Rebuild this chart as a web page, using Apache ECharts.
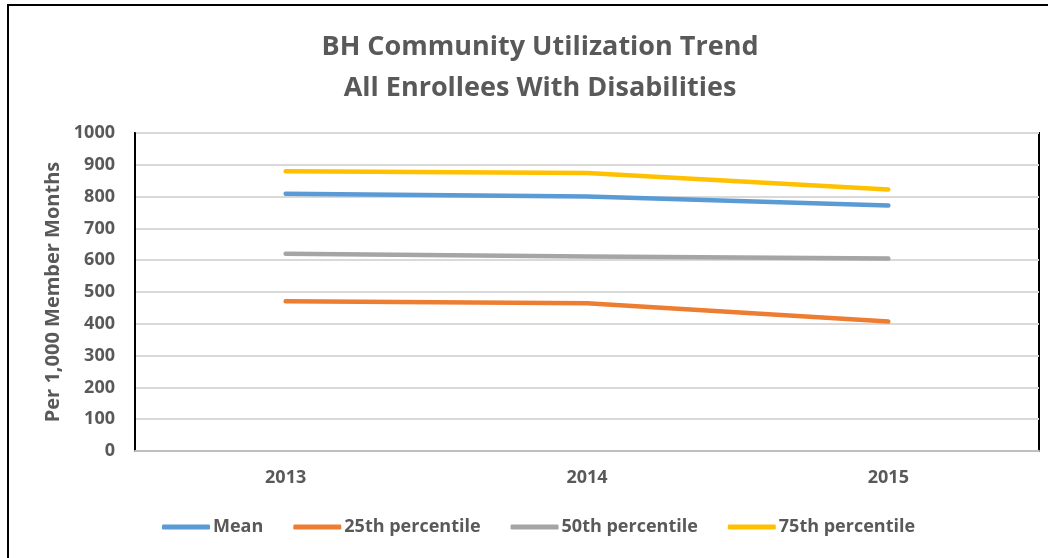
<!DOCTYPE html>
<html>
<head>
<meta charset="utf-8">
<script src="https://cdn.jsdelivr.net/npm/echarts@6/dist/echarts.min.js"></script>
<style>
html,body{margin:0;padding:0;background:#fff;}
#chart{width:1048px;height:558px;}
</style>
</head>
<body>
<div id="chart"></div>
<script>
var categories = ['2013', '2014', '2015'];
var meanValues = [809, 800, 772];
var p25Values = [471, 465, 407];
var p50Values = [620, 612, 605];
var p75Values = [880, 874, 822];
var seriesNames = ['Mean', '25th percentile', '50th percentile', '75th percentile'];
var seriesColors = ['#5B9BD5', '#ED7D31', '#A5A5A5', '#FFC000'];

var FONT = '"Open Sans"';
var chart = echarts.init(document.getElementById('chart'));
function mk(i, data) {
  return {
    name: seriesNames[i], type: 'line', data: data,
    symbol: 'none', showSymbol: false,
    lineStyle: { color: seriesColors[i], width: 4.5, cap: 'round', join: 'round' },
    itemStyle: { color: seriesColors[i] },
    emphasis: { disabled: true }
  };
}
chart.setOption({
  animation: false,
  backgroundColor: '#fff',
  title: {
    text: 'BH Community Utilization Trend\nAll Enrollees With Disabilities',
    left: 535, top: 22, textAlign: 'center',
    textStyle: { fontFamily: FONT, fontWeight: 'bold', fontSize: 27, color: '#595959', lineHeight: 41 }
  },
  legend: {
    data: seriesNames,
    left: 157, top: 513,
    icon: 'roundRect', itemWidth: 48, itemHeight: 5, itemGap: 30,
    textStyle: { fontFamily: FONT, fontWeight: 'bold', fontSize: 18, color: '#595959', padding: [0, 0, 0, -2] }
  },
  grid: { left: 135, right: 9, top: 133, bottom: 107, show: true, borderColor: '#000', borderWidth: 2 },
  xAxis: {
    type: 'category', data: categories, boundaryGap: true,
    axisLine: { lineStyle: { color: '#BFBFBF', width: 2 } },
    axisTick: { show: false },
    axisLabel: { fontFamily: FONT, fontWeight: 'bold', fontSize: 18, color: '#595959', margin: 18 }
  },
  yAxis: {
    type: 'value', min: 0, max: 1000, interval: 100,
    name: 'Per 1,000 Member Months', nameLocation: 'middle', nameGap: 71,
    nameTextStyle: { fontFamily: FONT, fontWeight: 'bold', fontSize: 20, color: '#595959' },
    axisLine: { show: true, lineStyle: { color: '#000', width: 2 } },
    axisTick: { show: false },
    splitLine: { lineStyle: { color: '#D9D9D9', width: 2 } },
    axisLabel: { fontFamily: FONT, fontWeight: 'bold', fontSize: 18, color: '#595959', margin: 20,
      formatter: function (v) { return String(v); } }
  },
  graphic: [
    { type: 'line', shape: { x1: 8, y1: 5, x2: 8, y2: 558 }, style: { stroke: '#000', lineWidth: 2 } },
    { type: 'line', shape: { x1: 7, y1: 5, x2: 1048, y2: 5 }, style: { stroke: '#000', lineWidth: 2 } }
  ],
  series: [mk(0, meanValues), mk(1, p25Values), mk(2, p50Values), mk(3, p75Values)]
});
</script>
</body>
</html>
